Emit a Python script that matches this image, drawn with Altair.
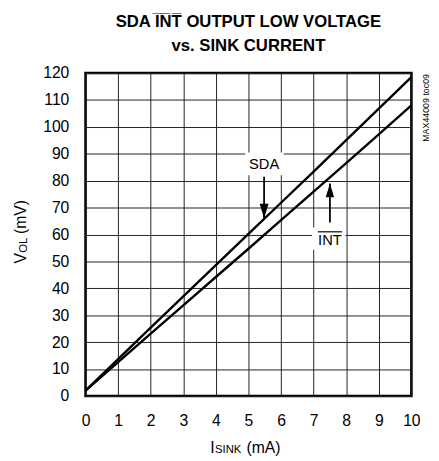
import altair as alt
import pandas as pd

# ---- data ----
isink = [0, 1, 2, 3, 4, 5, 6, 7, 8, 9, 10]
sda_mv = [2.0, 13.7, 25.4, 37.0, 48.6, 60.2, 71.8, 83.4, 95.1, 106.8, 118.5]
int_mv = [2.0, 12.6, 23.2, 33.7, 44.2, 54.7, 65.3, 75.9, 86.5, 97.2, 108.0]
x_ticks = [0, 1, 2, 3, 4, 5, 6, 7, 8, 9, 10]
y_ticks = [0, 10, 20, 30, 40, 50, 60, 70, 80, 90, 100, 110, 120]

# annotations: label, label position, white box behind it, arrow start / tip
ann_label = ["SDA", "INT"]
ann_x = [5.48, 7.5]
ann_y = [86.0, 57.8]
box_x1 = [4.9, 6.95]
box_x2 = [6.08, 7.98]
box_y1 = [82.0, 54.3]
box_y2 = [90.5, 62.6]
arrow_from = [81.5, 64.5]
arrow_tip = [66.0, 79.0]
overline_x = [7.13, 7.87]
overline_y = 61.0

W, H = 332, 329
FONT = "Liberation Sans Narrow, Arial Narrow, Liberation Sans, sans-serif"

rows = []
for xv, s, i in zip(isink, sda_mv, int_mv):
    rows.append({"isink": xv, "v": s, "series": "SDA"})
    rows.append({"isink": xv, "v": i, "series": "INT"})
df = pd.DataFrame(rows)

ann = pd.DataFrame({
    "label": ann_label, "x": ann_x, "y": ann_y,
    "bx1": box_x1, "bx2": box_x2, "by1": box_y1, "by2": box_y2,
    "a0": arrow_from, "tip": arrow_tip,
})
ov = pd.DataFrame({"x1": [overline_x[0]], "x2": [overline_x[1]], "y": [overline_y]})

xs = alt.Scale(domain=[0, 10], nice=False, zero=False)
ys = alt.Scale(domain=[0, 120], nice=False, zero=False)

x_axis = alt.Axis(values=x_ticks, grid=True, ticks=False, domain=False,
                  labelFont=FONT, labelFontSize=16, labelColor="#000",
                  labelPadding=17, labelFlush=False, labelOverlap=False,
                  gridColor="#222", gridWidth=1, gridOpacity=1, title=None)
y_axis = alt.Axis(values=y_ticks, grid=True, ticks=False, domain=False,
                  labelFont=FONT, labelFontSize=16, labelColor="#000",
                  labelPadding=17, labelFlush=False, labelOverlap=False,
                  labelBaseline="middle",
                  gridColor="#222", gridWidth=1, gridOpacity=1, title=None)


def X(f):
    return alt.X(f, scale=xs, axis=x_axis)


def Y(f):
    return alt.Y(f, scale=ys, axis=y_axis)


boxes = alt.Chart(ann).mark_rect(color="white").encode(
    x=X("bx1:Q"), x2="bx2:Q", y=Y("by1:Q"), y2="by2:Q")

lines = alt.Chart(df).mark_line(color="black", strokeWidth=2.4).encode(
    x=X("isink:Q"), y=Y("v:Q"), detail="series:N")

labels = alt.Chart(ann).mark_text(font=FONT, fontSize=15, color="black",
                                  baseline="middle").encode(
    x=X("x:Q"), y=Y("y:Q"), text="label:N")

overline = alt.Chart(ov).mark_rule(color="black", strokeWidth=1.2).encode(
    x=X("x1:Q"), x2="x2:Q", y=Y("y:Q"))

arrows = alt.Chart(ann).mark_rule(color="black", strokeWidth=1.8).encode(
    x=X("x:Q"), y=Y("a0:Q"), y2="tip:Q")

head_down = alt.Chart(ann).transform_filter("datum.label == 'SDA'").transform_calculate(
    hy="datum.tip + 2.7").mark_point(
    shape="M-0.6,-1L0.6,-1L0,1Z", size=225, filled=True, color="black", opacity=1
).encode(x=X("x:Q"), y=Y("hy:Q"))

head_up = alt.Chart(ann).transform_filter("datum.label == 'INT'").transform_calculate(
    hy="datum.tip - 2.6").mark_point(
    shape="M-0.6,1L0.6,1L0,-1Z", size=200, filled=True, color="black", opacity=1
).encode(x=X("x:Q"), y=Y("hy:Q"))


def ptext(txt, px, py, size, angle=0, weight="normal"):
    kw = dict(font=FONT, fontSize=size, color="black", align="left",
              baseline="alphabetic", fontWeight=weight)
    if angle:
        kw["angle"] = angle
    return alt.Chart(pd.DataFrame({"t": [txt]})).mark_text(**kw).encode(
        x=alt.value(px), y=alt.value(py), text="t:N")


ytitle = (ptext("V", -61, 194, 16, 270) + ptext("OL", -60, 183, 11.5, 270)
          + ptext("(mV)", -61, 164, 16, 270))
xtitle = (ptext("I", 127, 387, 16) + ptext("SINK", 132, 387, 11.5)
          + ptext("(mA)", 164, 387, 16))
tag = ptext("MAX44009 toc09", 350, 70, 9, 270)

chart = alt.layer(boxes, lines, arrows, head_down, head_up, labels, overline,
                  ytitle, xtitle, tag).properties(
    width=W, height=H,
    title=alt.TitleParams(
        text=["SDA I\u0305N\u0305T\u0305 OUTPUT LOW VOLTAGE", "vs. SINK CURRENT"],
        font=FONT, fontSize=17, fontWeight="bold", color="black",
        anchor="middle", lineHeight=25, offset=10),
    autosize="none",
    padding={"left": 79, "top": 62, "right": 20, "bottom": 62},
).configure_view(stroke="black", strokeWidth=2.6)

chart.save("out.html", embed_options={"renderer": "svg", "actions": False})
